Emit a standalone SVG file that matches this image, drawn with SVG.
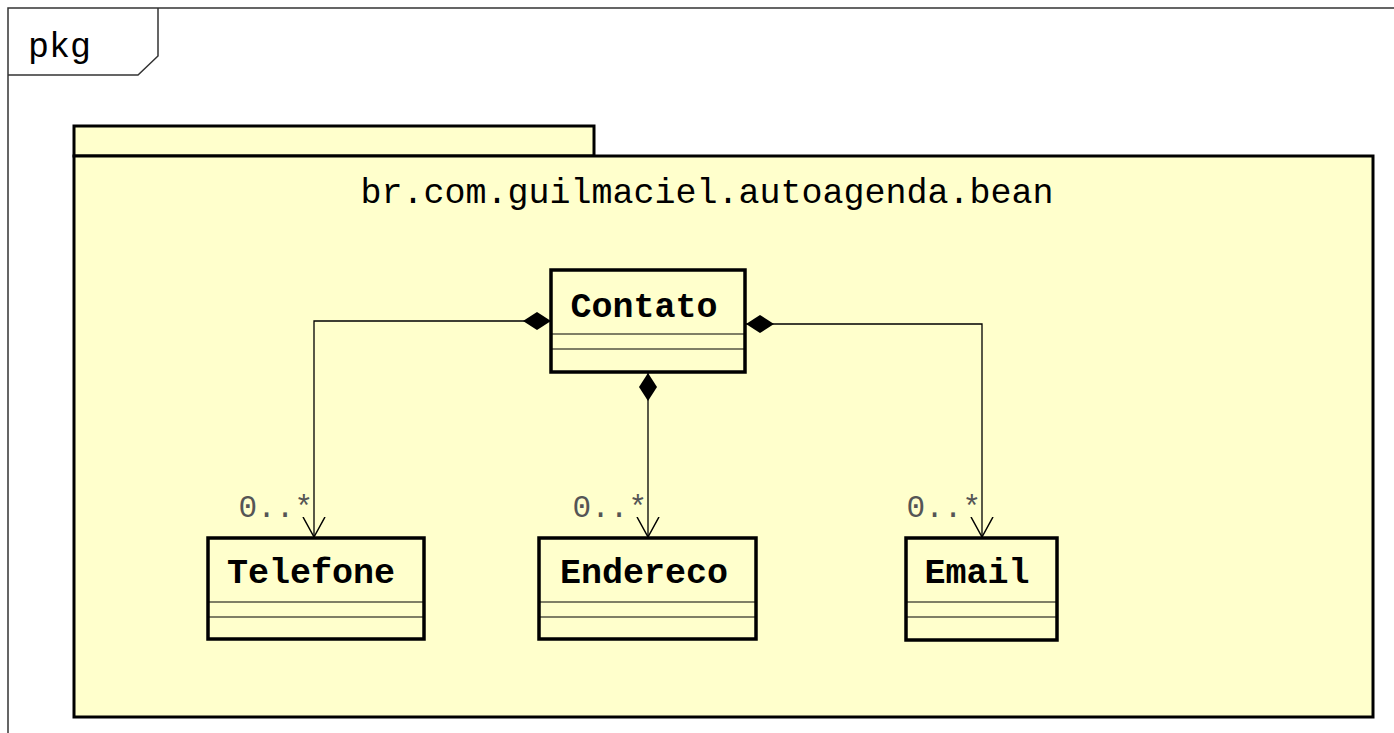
<svg xmlns="http://www.w3.org/2000/svg" width="1394" height="733" viewBox="0 0 1394 733">
<defs>
<style>
.frame{fill:none;stroke:#333;stroke-width:1.5}
.pkg{fill:#FFFFCC;stroke:#000;stroke-width:3}
.cls{fill:#FFFFCC;stroke:#000;stroke-width:3.5}
.sep{stroke:#000;stroke-width:1.2;fill:none}
.name{font-family:"Liberation Mono","Courier New",monospace;font-weight:bold;font-size:35px;fill:#000}
.title{font-family:"Liberation Mono","Courier New",monospace;font-size:35px;fill:#000}
.mult{font-family:"Liberation Mono","Courier New",monospace;font-size:31px;fill:#555}
.edge{fill:none;stroke:#000;stroke-width:1.3}
</style>
<marker id="diamond" markerWidth="28" markerHeight="18" refX="0" refY="9" orient="auto" markerUnits="userSpaceOnUse">
<path d="M0,9 L14,0 L28,9 L14,18 Z" fill="#000"/>
</marker>
<marker id="open" markerWidth="24" markerHeight="24" refX="20" refY="12" orient="auto" markerUnits="userSpaceOnUse">
<path d="M0,1 L20,12 L0,23" fill="none" stroke="#000" stroke-width="1.5"/>
</marker>
</defs>
<rect width="1394" height="733" fill="#fff"/>
<g id="frame">
<path class="frame" d="M8,733 L8,8 L1394,8"/>
<path class="frame" d="M8,75 L138,75 L158,56 L158,8"/>
<text x="28" y="57" style="font-family:'Liberation Mono','Courier New',monospace;font-size:35px;fill:#000">pkg</text>
</g>
<g id="package">
<rect class="pkg" x="74" y="126" width="520" height="30"/>
<rect class="pkg" x="74" y="156" width="1299" height="561"/>
<text class="title" x="707" y="203" text-anchor="middle">br.com.guilmaciel.autoagenda.bean</text>
</g>
<g id="connectors">
<path class="edge" d="M551,321 L314,321 L314,537" marker-start="url(#diamond)" marker-end="url(#open)"/>
<path class="edge" d="M648,373 L648,537" marker-start="url(#diamond)" marker-end="url(#open)"/>
<path class="edge" d="M746,324 L982,324 L982,537" marker-start="url(#diamond)" marker-end="url(#open)"/>
<text class="mult" x="313" y="517" text-anchor="end">0..*</text>
<text class="mult" x="647" y="517" text-anchor="end">0..*</text>
<text class="mult" x="981" y="517" text-anchor="end">0..*</text>
</g>
<g id="Contato">
<rect class="cls" x="551" y="270" width="194" height="102"/>
<path class="sep" d="M551,334 L745,334 M551,349 L745,349"/>
<text class="name" x="644" y="317" text-anchor="middle">Contato</text>
</g>
<g id="Telefone">
<rect class="cls" x="208" y="538" width="216" height="101"/>
<path class="sep" d="M208,602 L424,602 M208,617 L424,617"/>
<text class="name" x="311" y="583" text-anchor="middle">Telefone</text>
</g>
<g id="Endereco">
<rect class="cls" x="539" y="538" width="217" height="101"/>
<path class="sep" d="M539,602 L756,602 M539,617 L756,617"/>
<text class="name" x="644" y="583" text-anchor="middle">Endereco</text>
</g>
<g id="Email">
<rect class="cls" x="906" y="538" width="151" height="102"/>
<path class="sep" d="M906,602 L1057,602 M906,617 L1057,617"/>
<text class="name" x="977" y="583" text-anchor="middle">Email</text>
</g>
</svg>
